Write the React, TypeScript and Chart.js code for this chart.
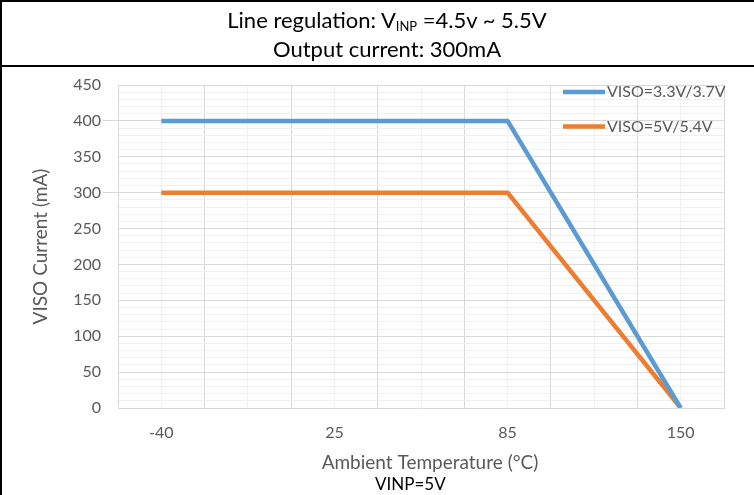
import React, { useEffect, useRef } from 'react';
import { Chart, registerables } from 'chart.js';

Chart.register(...registerables);

// ---- data ----
const temperatureLabels = ['-40', '25', '85', '150'];
const visoLowCurrent = [400, 400, 400, 0];
const visoHighCurrent = [300, 300, 300, 0];
const seriesNames = ['VISO=3.3V/3.7V', 'VISO=5V/5.4V'];
const seriesColors = ['#5B9BD5', '#ED7D31'];
const yMax = 450;
const yStep = 10;
const yLabelStep = 50;

const FONT = 'Lato, "Open Sans", sans-serif';
const TEXT_GRAY = '#595959';
const MAJOR = '#d9d9d9';
const MINOR = '#f0f0f0';

export default function App() {
  const ref = useRef<HTMLCanvasElement>(null);

  useEffect(() => {
    if (!ref.current) return;
    const plateauValues = [visoLowCurrent[0], visoHighCurrent[0]];
    const overlay = {
      id: 'overlayText',
      afterDraw(chart: any) {
        const ctx = chart.ctx;
        const area = chart.chartArea;
        ctx.save();
        ctx.fillStyle = TEXT_GRAY;
        ctx.textAlign = 'center';
        ctx.textBaseline = 'middle';
        ctx.font = `19px ${FONT}`;
        ctx.fillText('Ambient Temperature (°C)', (area.left + area.right) / 2 + 9, area.bottom + 55);
        chart.data.datasets.forEach((ds: any, i: number) => {
          const y = area.top + 7 + i * 34.5;
          const x0 = area.right - 161;
          ctx.strokeStyle = ds.borderColor;
          ctx.lineWidth = 4.5;
          ctx.beginPath();
          ctx.moveTo(x0, y);
          ctx.lineTo(x0 + 42, y);
          ctx.stroke();
          ctx.font = `16px ${FONT}`;
          ctx.textAlign = 'left';
          ctx.fillStyle = TEXT_GRAY;
          ctx.fillText(ds.label, x0 + 44, y);
        });
        ctx.restore();
      },
    };

    const chart = new Chart(ref.current, {
      type: 'line',
      data: {
        datasets: [visoLowCurrent, visoHighCurrent].map((vals, si) => ({
          label: seriesNames[si],
          data: vals.map((v, i) => ({ x: i, y: v })),
          borderColor: seriesColors[si],
          backgroundColor: seriesColors[si],
          borderWidth: 4.5,
          pointRadius: 0,
          borderJoinStyle: 'round' as const,
          tension: 0,
        })),
      },
      options: {
        animation: false,
        responsive: false,
        layout: { padding: { top: 85, right: 30, left: 0, bottom: 0 } },
        plugins: { legend: { display: false }, tooltip: { enabled: false } },
        scales: {
          x: {
            type: 'linear',
            min: -0.25,
            max: temperatureLabels.length - 0.75,
            afterFit: (s: any) => { s.height = 87; },
            ticks: {
              stepSize: 0.25,
              autoSkip: false,
              maxRotation: 0,
              padding: 15,
              color: TEXT_GRAY,
              font: { family: FONT, size: 16 },
              callback: (v: any) => (Number.isInteger(v) ? temperatureLabels[v] : ''),
            },
            grid: {
              drawTicks: false,
              color: (c: any) => (c.tick && Math.abs((c.tick.value * 2) % 1) > 0.01 ? MAJOR : MINOR),
            },
            border: { display: true, color: MAJOR },
          },
          y: {
            min: 0,
            max: yMax,
            afterFit: (s: any) => { s.width = 118; },
            ticks: {
              stepSize: yStep,
              autoSkip: false,
              padding: 2,
              color: TEXT_GRAY,
              font: { family: FONT, size: 16 },
              callback: (v: any) => (v % yLabelStep === 0 ? String(v) : ''),
            },
            grid: {
              tickLength: 15,
              color: (c: any) => (c.tick && c.tick.value % yLabelStep === 0 ? MAJOR : MINOR),
              tickColor: (c: any) => (c.tick && plateauValues.includes(c.tick.value) ? MAJOR : 'rgba(0,0,0,0)'),
            },
            border: { display: true, color: MAJOR },
            title: {
              display: true,
              text: 'VISO Current (mA)',
              color: TEXT_GRAY,
              font: { family: FONT, size: 19 },
              padding: { top: 29, bottom: 0 },
            },
          },
        },
      },
      plugins: [overlay],
    } as any);
    return () => chart.destroy();
  }, []);

  return (
    <div style={{ position: 'fixed', left: 0, top: 0, width: 754, height: 495, background: '#fff', overflow: 'hidden' }}>
      <canvas ref={ref} width={754} height={495} style={{ position: 'absolute', left: 0, top: 0 }} />
      <div style={{ position: 'absolute', left: 0, top: 0, width: 754, height: 2, background: '#000' }} />
      <div style={{ position: 'absolute', left: 0, top: 65, width: 754, height: 2, background: '#000' }} />
      <div style={{ position: 'absolute', left: 0, top: 0, width: 2, height: 495, background: '#000' }} />
      <div style={{ position: 'absolute', left: 0, top: 5, width: 774, textAlign: 'center', fontFamily: FONT, fontSize: 22, lineHeight: '29px', color: '#000' }}>
        <div>Line regulation: V<sub style={{ fontSize: 13, verticalAlign: '-3px', lineHeight: 0 }}>INP</sub> =4.5v ~ 5.5V</div>
        <div>Output current: 300mA</div>
      </div>
      <div style={{ position: 'absolute', left: 375, top: 474, fontFamily: FONT, fontSize: 17, lineHeight: '20px', color: '#000' }}>VINP=5V</div>
    </div>
  );
}
